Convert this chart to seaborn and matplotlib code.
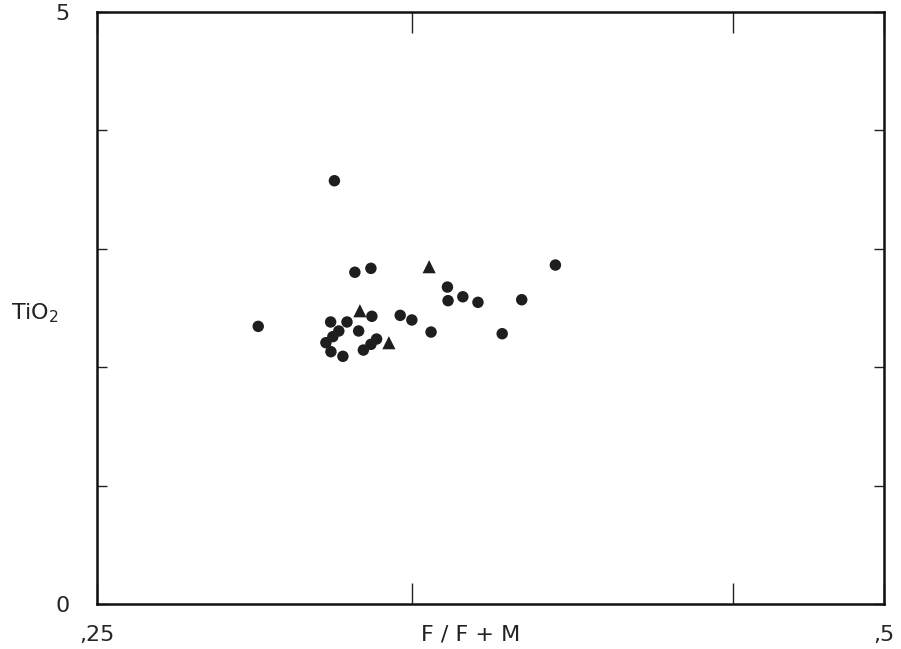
import pandas as pd
import matplotlib
matplotlib.use("Agg")
import matplotlib.pyplot as plt
import seaborn as sns

# F/F+M vs TiO2
circle_x = [0.3254, 0.3319, 0.3370, 0.3956, 0.3613, 0.3615, 0.3662, 0.3710, 0.3849,
            0.3373, 0.3463, 0.3500, 0.3561, 0.3787, 0.3012, 0.3242, 0.3294, 0.3268,
            0.3331, 0.3249, 0.3227, 0.3243, 0.3281, 0.3346, 0.3370, 0.3388]
circle_y = [3.575, 2.802, 2.835, 2.863, 2.677, 2.562, 2.595, 2.548, 2.570,
            2.430, 2.438, 2.399, 2.297, 2.283, 2.345, 2.382, 2.382, 2.306,
            2.306, 2.258, 2.207, 2.131, 2.092, 2.145, 2.193, 2.238]
triangle_x = [0.3555, 0.3335, 0.3427]
triangle_y = [2.849, 2.477, 2.207]

x_ticks = [0.25, 0.35, 0.452, 0.5]
x_tick_labels = [",25", "", "", ",5"]
y_ticks = [0, 1, 2, 3, 4, 5]
y_tick_labels = ["0", "", "", "", "", "5"]

df = pd.DataFrame({
    "ff": circle_x + triangle_x,
    "tio2": circle_y + triangle_y,
    "kind": ["circle"] * len(circle_x) + ["triangle"] * len(triangle_x),
})

sns.set_style("white")
plt.rcParams["font.family"] = ["DejaVu Sans"]

fig = plt.figure(figsize=(9.01, 6.49), dpi=100)
ax = fig.add_axes([0.1077, 0.0693, 0.8735, 0.9122])

sns.scatterplot(data=df, x="ff", y="tio2", style="kind", size="kind",
                markers={"circle": "o", "triangle": "^"},
                sizes={"circle": 68, "triangle": 90},
                color="#1e1e1e", edgecolor="none", legend=False, ax=ax)

ax.set_xlim(0.25, 0.5)
ax.set_ylim(0, 5)
ax.set_xticks(x_ticks)
ax.set_xticklabels(x_tick_labels)
ax.set_yticks(y_ticks)
ax.set_yticklabels(y_tick_labels)
ax.set_xlabel("")
ax.set_ylabel("")

for s in ax.spines.values():
    s.set_visible(True)
    s.set_linewidth(1.8)
    s.set_color("#111111")

ax.tick_params(axis="x", direction="in", length=15, width=1.0, color="#222222",
               top=True, bottom=True, labelsize=16, pad=15)
ax.tick_params(axis="y", direction="in", length=7, width=1.0, color="#222222",
               left=True, right=True, labelsize=16, pad=20)

ax.text(0.475, -0.052, "F / F + M", transform=ax.transAxes, ha="center", va="center",
        fontsize=16, color="#222222")
ax.text(-0.079, 0.492, r"TiO$_2$", transform=ax.transAxes, ha="center", va="center",
        fontsize=16, color="#222222")

fig.savefig("out.png", dpi=100)
